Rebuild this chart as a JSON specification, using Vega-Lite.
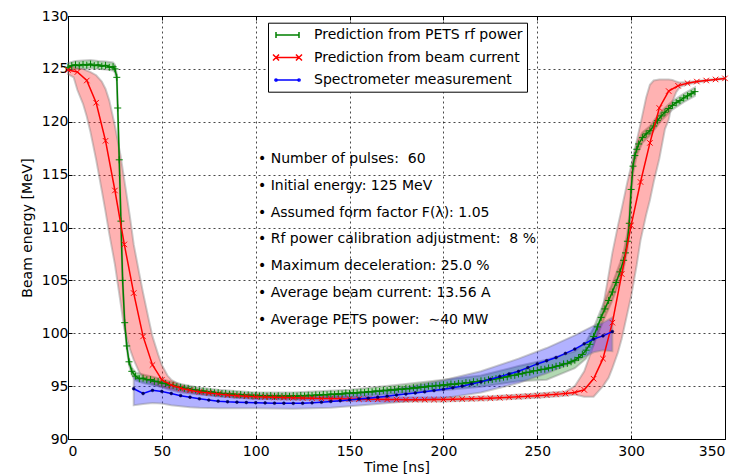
{
  "$schema": "https://vega.github.io/schema/vega-lite/v6.json",
  "width": 657,
  "height": 423,
  "autosize": {"type": "none"},
  "padding": {"left": 68, "top": 16, "right": 23, "bottom": 35},
  "background": "white",
  "config": {
    "font": "DejaVu Sans",
    "view": {"stroke": "black", "strokeWidth": 1},
    "axis": {
      "grid": true, "gridColor": "black", "gridDash": [2, 3], "gridWidth": 0.8, "gridOpacity": 0.9,
      "domainColor": "black", "domainWidth": 1, "tickColor": "black", "tickSize": -4, "tickWidth": 1,
      "labelFontSize": 14, "labelColor": "black", "labelFont": "DejaVu Sans",
      "titleFontSize": 14, "titleFontWeight": "normal", "titleColor": "black", "titleFont": "DejaVu Sans"
    }
  },
  "resolve": {"axis": {"x": "independent", "y": "independent"}},
  "datasets": {
    "green": [
      {"t":0,"e":125.15},{"t":2,"e":125.3},{"t":4,"e":125.38},{"t":6,"e":125.3},{"t":8,"e":125.42},{"t":10,"e":125.35},{"t":12,"e":125.45},{"t":14,"e":125.3},{"t":16,"e":125.38},{"t":18,"e":125.25},{"t":20,"e":125.33},{"t":22,"e":125.15},{"t":24,"e":125.2},{"t":25,"e":125.0},{"t":26,"e":124.2},{"t":26.5,"e":121.3},{"t":27.3,"e":116.4},{"t":28.2,"e":110.6},{"t":29.1,"e":105.0},{"t":30.2,"e":101.0},{"t":31.3,"e":98.8},{"t":32.5,"e":97.3},{"t":34,"e":96.4},{"t":36,"e":95.95},{"t":38,"e":95.7},{"t":40,"e":95.75},{"t":42,"e":95.6},{"t":44,"e":95.62},{"t":46,"e":95.45},{"t":48,"e":95.42},{"t":50,"e":95.28},{"t":52,"e":95.24},{"t":54,"e":95.1},{"t":56,"e":95.08},{"t":58,"e":94.94},{"t":60,"e":94.9},{"t":62,"e":94.8},{"t":64,"e":94.78},{"t":66,"e":94.66},{"t":68,"e":94.65},{"t":70,"e":94.55},{"t":72,"e":94.54},{"t":74,"e":94.45},{"t":76,"e":94.46},{"t":78,"e":94.37},{"t":80,"e":94.38},{"t":82,"e":94.29},{"t":84,"e":94.31},{"t":86,"e":94.23},{"t":88,"e":94.25},{"t":90,"e":94.18},{"t":92,"e":94.2},{"t":94,"e":94.13},{"t":96,"e":94.16},{"t":98,"e":94.1},{"t":100,"e":94.13},{"t":102,"e":94.07},{"t":104,"e":94.11},{"t":106,"e":94.05},{"t":108,"e":94.1},{"t":110,"e":94.04},{"t":112,"e":94.09},{"t":114,"e":94.03},{"t":116,"e":94.1},{"t":118,"e":94.04},{"t":120,"e":94.1},{"t":122,"e":94.05},{"t":124,"e":94.12},{"t":126,"e":94.07},{"t":128,"e":94.14},{"t":130,"e":94.1},{"t":132,"e":94.17},{"t":134,"e":94.13},{"t":136,"e":94.21},{"t":138,"e":94.17},{"t":140,"e":94.25},{"t":142,"e":94.2},{"t":144,"e":94.28},{"t":146,"e":94.25},{"t":148,"e":94.34},{"t":150,"e":94.3},{"t":152,"e":94.38},{"t":154,"e":94.35},{"t":156,"e":94.43},{"t":158,"e":94.4},{"t":160,"e":94.48},{"t":162,"e":94.45},{"t":164,"e":94.54},{"t":166,"e":94.5},{"t":168,"e":94.6},{"t":170,"e":94.57},{"t":172,"e":94.66},{"t":174,"e":94.62},{"t":176,"e":94.72},{"t":178,"e":94.69},{"t":180,"e":94.78},{"t":182,"e":94.75},{"t":184,"e":94.85},{"t":186,"e":94.82},{"t":188,"e":94.92},{"t":190,"e":94.9},{"t":192,"e":95.0},{"t":194,"e":94.97},{"t":196,"e":95.07},{"t":198,"e":95.04},{"t":200,"e":95.13},{"t":202,"e":95.1},{"t":204,"e":95.2},{"t":206,"e":95.16},{"t":208,"e":95.26},{"t":210,"e":95.23},{"t":212,"e":95.33},{"t":214,"e":95.3},{"t":216,"e":95.42},{"t":218,"e":95.38},{"t":220,"e":95.5},{"t":222,"e":95.5},{"t":224,"e":95.6},{"t":226,"e":95.62},{"t":228,"e":95.7},{"t":230,"e":95.75},{"t":232,"e":95.85},{"t":234,"e":95.88},{"t":236,"e":96.0},{"t":238,"e":96.02},{"t":240,"e":96.15},{"t":242,"e":96.18},{"t":244,"e":96.3},{"t":246,"e":96.32},{"t":248,"e":96.45},{"t":250,"e":96.48},{"t":252,"e":96.58},{"t":254,"e":96.6},{"t":256,"e":96.72},{"t":258,"e":96.75},{"t":260,"e":96.88},{"t":262,"e":96.95},{"t":264,"e":97.1},{"t":266,"e":97.15},{"t":268,"e":97.3},{"t":270,"e":97.45},{"t":272,"e":97.7},{"t":274,"e":98.0},{"t":276,"e":98.4},{"t":278,"e":98.95},{"t":280,"e":99.7},{"t":282,"e":100.6},{"t":284,"e":101.5},{"t":286,"e":102.3},{"t":288,"e":103.1},{"t":290,"e":103.9},{"t":292,"e":104.8},{"t":294,"e":105.8},{"t":296,"e":106.9},{"t":297,"e":107.6},{"t":298,"e":108.7},{"t":299,"e":110.4},{"t":300,"e":113.6},{"t":301,"e":115.8},{"t":302,"e":116.8},{"t":303,"e":117.4},{"t":304,"e":117.9},{"t":306,"e":118.5},{"t":308,"e":118.85},{"t":310,"e":119.15},{"t":312,"e":119.6},{"t":314,"e":120.1},{"t":316,"e":120.55},{"t":318,"e":120.9},{"t":320,"e":121.25},{"t":322,"e":121.55},{"t":324,"e":121.8},{"t":326,"e":122.0},{"t":328,"e":122.25},{"t":330,"e":122.45},{"t":332,"e":122.65},{"t":334,"e":122.85}
    ],
    "red": [
      {"t":0,"e":124.9},{"t":5,"e":124.7},{"t":10,"e":123.9},{"t":15,"e":121.8},{"t":20,"e":118.2},{"t":25,"e":113.5},{"t":30,"e":108.4},{"t":35,"e":103.8},{"t":40,"e":99.7},{"t":45,"e":97.0},{"t":50,"e":95.6},{"t":55,"e":95.1},{"t":60,"e":94.8},{"t":65,"e":94.6},{"t":70,"e":94.45},{"t":75,"e":94.35},{"t":80,"e":94.25},{"t":85,"e":94.15},{"t":90,"e":94.1},{"t":95,"e":94.05},{"t":100,"e":94.0},{"t":105,"e":93.97},{"t":110,"e":93.95},{"t":115,"e":93.92},{"t":120,"e":93.9},{"t":125,"e":93.88},{"t":130,"e":93.86},{"t":135,"e":93.84},{"t":140,"e":93.82},{"t":145,"e":93.8},{"t":150,"e":93.79},{"t":155,"e":93.77},{"t":160,"e":93.76},{"t":165,"e":93.75},{"t":170,"e":93.74},{"t":175,"e":93.73},{"t":180,"e":93.72},{"t":185,"e":93.72},{"t":190,"e":93.72},{"t":195,"e":93.73},{"t":200,"e":93.74},{"t":205,"e":93.76},{"t":210,"e":93.78},{"t":215,"e":93.8},{"t":220,"e":93.83},{"t":225,"e":93.86},{"t":230,"e":93.9},{"t":235,"e":93.95},{"t":240,"e":94.0},{"t":245,"e":94.05},{"t":250,"e":94.1},{"t":255,"e":94.15},{"t":260,"e":94.22},{"t":265,"e":94.3},{"t":270,"e":94.4},{"t":275,"e":94.65},{"t":280,"e":95.7},{"t":285,"e":97.6},{"t":290,"e":101.0},{"t":295,"e":105.6},{"t":300,"e":110.2},{"t":305,"e":114.3},{"t":310,"e":118.0},{"t":315,"e":121.3},{"t":320,"e":122.9},{"t":325,"e":123.4},{"t":330,"e":123.65},{"t":335,"e":123.8},{"t":340,"e":123.9},{"t":345,"e":124.0},{"t":350,"e":124.1}
    ],
    "blue": [
      {"t":35,"e":94.75},{"t":40,"e":94.3},{"t":45,"e":94.6},{"t":50,"e":94.5},{"t":55,"e":94.3},{"t":60,"e":94.1},{"t":65,"e":93.95},{"t":70,"e":93.8},{"t":75,"e":93.68},{"t":80,"e":93.58},{"t":85,"e":93.52},{"t":90,"e":93.48},{"t":95,"e":93.45},{"t":100,"e":93.43},{"t":105,"e":93.41},{"t":110,"e":93.39},{"t":115,"e":93.38},{"t":120,"e":93.37},{"t":125,"e":93.38},{"t":130,"e":93.42},{"t":135,"e":93.48},{"t":140,"e":93.55},{"t":145,"e":93.62},{"t":150,"e":93.7},{"t":155,"e":93.78},{"t":160,"e":93.86},{"t":165,"e":93.95},{"t":170,"e":94.05},{"t":175,"e":94.15},{"t":180,"e":94.25},{"t":185,"e":94.35},{"t":190,"e":94.46},{"t":195,"e":94.58},{"t":200,"e":94.7},{"t":205,"e":94.85},{"t":210,"e":95.0},{"t":215,"e":95.2},{"t":220,"e":95.4},{"t":225,"e":95.65},{"t":230,"e":95.9},{"t":235,"e":96.15},{"t":240,"e":96.4},{"t":245,"e":96.75},{"t":250,"e":97.1},{"t":255,"e":97.4},{"t":260,"e":97.7},{"t":265,"e":98.1},{"t":270,"e":98.5},{"t":275,"e":99.0},{"t":280,"e":99.45},{"t":285,"e":99.75},{"t":290,"e":100.15}
    ],
    "greenBand": [
      {"t":0,"lo":124.85,"hi":125.55},{"t":4,"lo":125.0,"hi":125.75},{"t":8,"lo":125.0,"hi":125.8},{"t":12,"lo":125.05,"hi":125.85},{"t":16,"lo":125.0,"hi":125.75},{"t":20,"lo":124.95,"hi":125.7},{"t":24,"lo":124.85,"hi":125.6},{"t":25,"lo":124.65,"hi":125.4},{"t":26,"lo":123.9,"hi":124.5},{"t":26.5,"lo":121.0,"hi":121.6},{"t":27.3,"lo":116.1,"hi":116.7},{"t":28.2,"lo":110.3,"hi":110.9},{"t":29.1,"lo":104.7,"hi":105.3},{"t":30.2,"lo":100.7,"hi":101.3},{"t":31.3,"lo":98.5,"hi":99.1},{"t":32.5,"lo":97.0,"hi":97.65},{"t":34,"lo":96.05,"hi":96.75},{"t":36,"lo":95.55,"hi":96.3},{"t":40,"lo":95.3,"hi":96.1},{"t":45,"lo":95.1,"hi":95.9},{"t":50,"lo":94.95,"hi":95.65},{"t":60,"lo":94.55,"hi":95.2},{"t":70,"lo":94.25,"hi":94.85},{"t":80,"lo":94.05,"hi":94.65},{"t":100,"lo":93.8,"hi":94.4},{"t":120,"lo":93.75,"hi":94.4},{"t":150,"lo":93.95,"hi":94.65},{"t":180,"lo":94.35,"hi":95.2},{"t":200,"lo":94.6,"hi":95.6},{"t":220,"lo":94.95,"hi":96.0},{"t":240,"lo":95.45,"hi":96.9},{"t":255,"lo":95.6,"hi":97.5},{"t":270,"lo":96.7,"hi":98.3},{"t":276,"lo":97.6,"hi":99.2},{"t":280,"lo":98.9,"hi":100.5},{"t":285,"lo":101.1,"hi":102.7},{"t":290,"lo":103.1,"hi":104.7},{"t":294,"lo":105.0,"hi":106.6},{"t":296,"lo":106.1,"hi":107.7},{"t":298,"lo":107.9,"hi":109.5},{"t":299,"lo":109.6,"hi":111.2},{"t":300,"lo":112.8,"hi":114.4},{"t":301,"lo":115.1,"hi":116.5},{"t":303,"lo":116.8,"hi":118.0},{"t":306,"lo":118.0,"hi":119.0},{"t":310,"lo":118.7,"hi":119.6},{"t":316,"lo":120.1,"hi":121.0},{"t":322,"lo":121.15,"hi":121.95},{"t":328,"lo":121.85,"hi":122.65},{"t":334,"lo":122.45,"hi":123.25}
    ],
    "redBand": [
      {"t":0,"lo":124.5,"hi":125.25},{"t":3,"lo":124.2,"hi":125.2},{"t":5,"lo":123.0,"hi":125.1},{"t":8,"lo":121.7,"hi":125.0},{"t":10,"lo":120.5,"hi":124.85},{"t":12,"lo":119.0,"hi":124.7},{"t":15,"lo":116.4,"hi":124.4},{"t":18,"lo":113.5,"hi":123.8},{"t":20,"lo":111.5,"hi":123.1},{"t":22,"lo":109.4,"hi":122.0},{"t":25,"lo":106.5,"hi":119.6},{"t":28,"lo":102.9,"hi":116.8},{"t":30,"lo":100.4,"hi":114.5},{"t":33,"lo":98.5,"hi":111.0},{"t":35,"lo":97.5,"hi":108.4},{"t":38,"lo":96.3,"hi":105.6},{"t":40,"lo":95.8,"hi":103.8},{"t":43,"lo":95.4,"hi":101.3},{"t":45,"lo":95.2,"hi":99.7},{"t":48,"lo":95.0,"hi":98.0},{"t":50,"lo":94.9,"hi":97.0},{"t":53,"lo":94.7,"hi":96.0},{"t":55,"lo":94.6,"hi":95.6},{"t":60,"lo":94.4,"hi":95.1},{"t":65,"lo":94.3,"hi":94.85},{"t":70,"lo":94.2,"hi":94.65},{"t":80,"lo":94.05,"hi":94.45},{"t":90,"lo":93.9,"hi":94.3},{"t":100,"lo":93.8,"hi":94.2},{"t":125,"lo":93.7,"hi":94.08},{"t":150,"lo":93.6,"hi":93.98},{"t":175,"lo":93.55,"hi":93.92},{"t":200,"lo":93.55,"hi":93.93},{"t":225,"lo":93.68,"hi":94.05},{"t":250,"lo":93.9,"hi":94.3},{"t":265,"lo":94.1,"hi":94.5},{"t":270,"lo":94.2,"hi":95.0},{"t":275,"lo":94.0,"hi":96.4},{"t":280,"lo":94.0,"hi":98.9},{"t":283,"lo":94.6,"hi":101.0},{"t":285,"lo":95.0,"hi":102.5},{"t":288,"lo":95.8,"hi":105.5},{"t":290,"lo":96.7,"hi":107.6},{"t":293,"lo":98.2,"hi":110.2},{"t":295,"lo":99.5,"hi":111.8},{"t":298,"lo":101.9,"hi":114.3},{"t":300,"lo":103.5,"hi":115.8},{"t":303,"lo":106.5,"hi":118.2},{"t":305,"lo":108.8,"hi":119.8},{"t":308,"lo":111.2,"hi":122.3},{"t":310,"lo":112.6,"hi":123.5},{"t":312,"lo":114.3,"hi":123.9},{"t":315,"lo":116.5,"hi":124.0},{"t":318,"lo":119.3,"hi":124.0},{"t":320,"lo":120.2,"hi":124.0},{"t":322,"lo":121.9,"hi":123.95},{"t":324,"lo":122.8,"hi":123.8},{"t":326,"lo":123.3,"hi":123.7},{"t":330,"lo":123.55,"hi":123.75},{"t":340,"lo":123.85,"hi":123.95},{"t":350,"lo":124.05,"hi":124.15}
    ],
    "blueBand": [
      {"t":35,"lo":93.2,"hi":95.9},{"t":40,"lo":93.3,"hi":95.5},{"t":45,"lo":93.4,"hi":95.6},{"t":50,"lo":93.35,"hi":95.45},{"t":55,"lo":93.2,"hi":95.2},{"t":60,"lo":93.1,"hi":94.95},{"t":65,"lo":93.0,"hi":94.8},{"t":70,"lo":92.95,"hi":94.6},{"t":80,"lo":92.9,"hi":94.3},{"t":90,"lo":92.9,"hi":94.1},{"t":100,"lo":92.9,"hi":93.95},{"t":120,"lo":92.85,"hi":93.9},{"t":140,"lo":92.95,"hi":94.1},{"t":160,"lo":93.25,"hi":94.45},{"t":180,"lo":93.55,"hi":94.95},{"t":200,"lo":93.85,"hi":95.55},{"t":220,"lo":94.4,"hi":96.4},{"t":240,"lo":95.3,"hi":97.6},{"t":255,"lo":96.2,"hi":98.6},{"t":270,"lo":97.3,"hi":99.8},{"t":280,"lo":98.2,"hi":100.7},{"t":285,"lo":98.4,"hi":101.0},{"t":290,"lo":98.3,"hi":101.5}
    ]
  },
  "layer": [
    {
      "data": {"name": "greenBand"},
      "mark": {"type": "area", "fill": "#008000", "fillOpacity": 0.3, "stroke": "#808080", "strokeOpacity": 0.4, "strokeWidth": 2},
      "encoding": {
        "x": {"field": "t", "type": "quantitative", "scale": {"domain": [0, 350], "nice": false},
              "axis": {"title": "Time [ns]", "values": [0, 50, 100, 150, 200, 250, 300, 350], "labelPadding": 9, "titlePadding": 2, "format": "d"}},
        "y": {"field": "lo", "type": "quantitative", "scale": {"domain": [90, 130], "nice": false, "zero": false},
              "axis": {"title": "Beam energy [MeV]", "values": [90, 95, 100, 105, 110, 115, 120, 125, 130], "labelPadding": 4, "titlePadding": 7, "format": "d"}},
        "y2": {"field": "hi"}
      }
    },
    {
      "data": {"name": "redBand"},
      "mark": {"type": "area", "fill": "#ff0000", "fillOpacity": 0.3, "stroke": "#808080", "strokeOpacity": 0.4, "strokeWidth": 2},
      "encoding": {
        "x": {"field": "t", "type": "quantitative", "scale": {"domain": [0, 350], "nice": false},
              "axis": {"orient": "top", "title": null, "labels": false, "grid": false, "domain": false, "values": [0, 50, 100, 150, 200, 250, 300, 350]}},
        "y": {"field": "lo", "type": "quantitative", "scale": {"domain": [90, 130], "nice": false, "zero": false},
              "axis": {"orient": "right", "title": null, "labels": false, "grid": false, "domain": false, "values": [90, 95, 100, 105, 110, 115, 120, 125, 130]}},
        "y2": {"field": "hi"}
      }
    },
    {
      "data": {"name": "blueBand"},
      "mark": {"type": "area", "fill": "#0000ff", "fillOpacity": 0.3, "stroke": "#808080", "strokeOpacity": 0.4, "strokeWidth": 2},
      "encoding": {
        "x": {"field": "t", "type": "quantitative", "scale": {"domain": [0, 350], "nice": false}, "axis": null},
        "y": {"field": "lo", "type": "quantitative", "scale": {"domain": [90, 130], "nice": false, "zero": false}, "axis": null},
        "y2": {"field": "hi"}
      }
    },
    {
      "data": {"name": "green"},
      "mark": {"type": "line", "strokeWidth": 1.5},
      "encoding": {
        "x": {"field": "t", "type": "quantitative", "scale": {"domain": [0, 350], "nice": false}, "axis": null},
        "y": {"field": "e", "type": "quantitative", "scale": {"domain": [90, 130], "nice": false, "zero": false}, "axis": null},
        "color": {"datum": "Prediction from PETS rf power", "type": "nominal",
          "scale": {"domain": ["Prediction from PETS rf power", "Prediction from beam current", "Spectrometer measurement"], "range": ["#008000", "#ff0000", "#0000ff"]},
          "legend": {"title": null, "orient": "none", "legendX": 200, "legendY": 6.7, "fillColor": "white", "strokeColor": "black",
            "padding": 4.3, "symbolOffset": 7.2, "symbolSize": 196, "symbolStrokeWidth": 1.5, "labelFontSize": 14, "labelFont": "DejaVu Sans", "labelColor": "black",
            "labelOffset": 18.5, "rowPadding": 7.5, "labelLimit": 400,
            "encode": {"symbols": {"update": {"shape": {"signal": "datum.value === 'Prediction from PETS rf power' ? 'M-1.643,0H1.643M-1.643,-0.43V0.43M1.643,-0.43V0.43' : datum.value === 'Prediction from beam current' ? 'M-1.643,0H1.643M-2.07,-0.43L-1.21,0.43M-2.07,0.43L-1.21,-0.43M1.21,-0.43L2.07,0.43M1.21,0.43L2.07,-0.43' : 'M-1.643,0H1.643M-1.8,0A0.16,0.16,0,1,0,-1.48,0A0.16,0.16,0,1,0,-1.8,0M1.48,0A0.16,0.16,0,1,0,1.8,0A0.16,0.16,0,1,0,1.48,0'"}}}}
          }
        }
      }
    },
    {
      "data": {"name": "green"},
      "mark": {"type": "point", "shape": "M-1,0H1M0,-1V1", "size": 49, "filled": false, "stroke": "#008000", "strokeWidth": 1, "opacity": 1},
      "encoding": {
        "x": {"field": "t", "type": "quantitative", "scale": {"domain": [0, 350], "nice": false}, "axis": null},
        "y": {"field": "e", "type": "quantitative", "scale": {"domain": [90, 130], "nice": false, "zero": false}, "axis": null}
      }
    },
    {
      "data": {"name": "red"},
      "mark": {"type": "line", "strokeWidth": 1.5},
      "encoding": {
        "x": {"field": "t", "type": "quantitative", "scale": {"domain": [0, 350], "nice": false}, "axis": null},
        "y": {"field": "e", "type": "quantitative", "scale": {"domain": [90, 130], "nice": false, "zero": false}, "axis": null},
        "color": {"datum": "Prediction from beam current", "type": "nominal"}
      }
    },
    {
      "data": {"name": "red"},
      "mark": {"type": "point", "shape": "M-1,-1L1,1M-1,1L1,-1", "size": 30, "filled": false, "stroke": "#ff0000", "strokeWidth": 1, "opacity": 1},
      "encoding": {
        "x": {"field": "t", "type": "quantitative", "scale": {"domain": [0, 350], "nice": false}, "axis": null},
        "y": {"field": "e", "type": "quantitative", "scale": {"domain": [90, 130], "nice": false, "zero": false}, "axis": null}
      }
    },
    {
      "data": {"name": "blue"},
      "mark": {"type": "line", "strokeWidth": 1.5},
      "encoding": {
        "x": {"field": "t", "type": "quantitative", "scale": {"domain": [0, 350], "nice": false}, "axis": null},
        "y": {"field": "e", "type": "quantitative", "scale": {"domain": [90, 130], "nice": false, "zero": false}, "axis": null},
        "color": {"datum": "Spectrometer measurement", "type": "nominal"}
      }
    },
    {
      "data": {"name": "blue"},
      "mark": {"type": "point", "shape": "circle", "size": 8, "filled": true, "fill": "#000060", "stroke": "#000060", "strokeWidth": 0.5, "opacity": 1},
      "encoding": {
        "x": {"field": "t", "type": "quantitative", "scale": {"domain": [0, 350], "nice": false}, "axis": null},
        "y": {"field": "e", "type": "quantitative", "scale": {"domain": [90, 130], "nice": false, "zero": false}, "axis": null}
      }
    },
    {
      "data": {"values": [{}]},
      "mark": {"type": "text", "align": "left", "baseline": "alphabetic", "fontSize": 14, "font": "DejaVu Sans", "color": "black", "lineHeight": 26.8,
        "text": ["• Number of pulses:\u00a0 60", "• Initial energy: 125 MeV", "• Assumed form factor F(λ): 1.05", "• Rf power calibration adjustment:\u00a0 8 %", "• Maximum deceleration: 25.0 %", "• Average beam current: 13.56 A", "• Average PETS power:\u00a0 ∼40 MW"]},
      "encoding": {
        "x": {"datum": 101.2, "type": "quantitative", "scale": {"domain": [0, 350], "nice": false}, "axis": null},
        "y": {"datum": 116.1, "type": "quantitative", "scale": {"domain": [90, 130], "nice": false, "zero": false}, "axis": null}
      }
    }
  ]
}
